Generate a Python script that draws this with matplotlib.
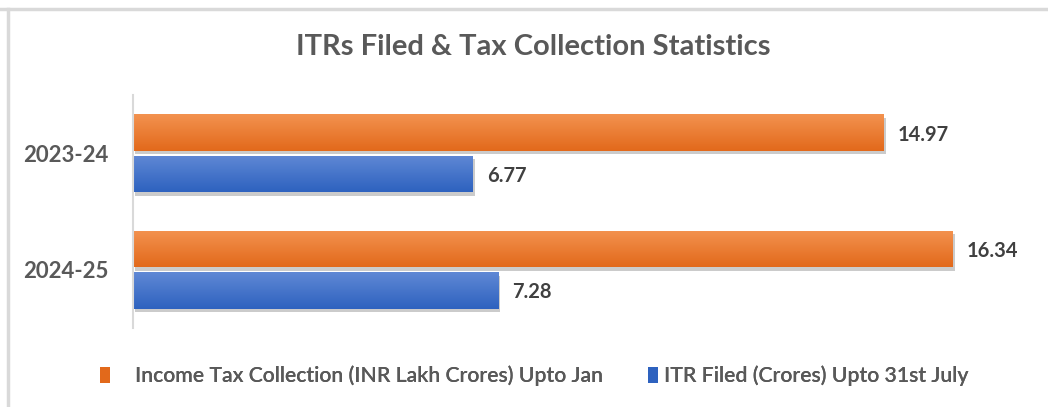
import matplotlib
matplotlib.use("Agg")
import matplotlib.pyplot as plt
import matplotlib.patheffects as pe
from matplotlib.patches import Patch
from matplotlib.lines import Line2D
import numpy as np

categories = ["2023-24", "2024-25"]
tax_collection = [14.97, 16.34]
itr_filed = [6.77, 7.28]
series_names = ["Income Tax Collection (INR Lakh Crores) Upto Jan",
                "ITR Filed (Crores) Upto 31st July"]
title = "ITRs Filed & Tax Collection Statistics"

FONT = ["Lato", "DejaVu Sans"]
plt.rcParams["font.family"] = FONT

orange_top, orange_bot = "#F3924F", "#E2691B"
blue_top, blue_bot = "#5F88D5", "#2E62BF"
text_col = "#595959"
label_col = "#404040"

fig = plt.figure(figsize=(10.48, 4.07), dpi=100)
fig.patch.set_facecolor("white")

# light frame lines (top and left)
fig.add_artist(Line2D([0, 1], [1 - 8.5/407]*2, transform=fig.transFigure, color="#D9D9D9", lw=2.5))
fig.add_artist(Line2D([7.5/1048]*2, [0, 1 - 8.5/407], transform=fig.transFigure, color="#D9D9D9", lw=2.5))

ax = fig.add_axes([133/1048, 79/407, 903/1048, 233/407])
y = np.arange(len(categories))
h = 0.31
off = 0.178

def grad_bars(bars, top, bot):
    cmap = matplotlib.colors.LinearSegmentedColormap.from_list("g", [top, bot])
    grad = np.linspace(0, 1, 64).reshape(-1, 1)
    for b in bars:
        b.set_path_effects([pe.SimplePatchShadow(offset=(1.5, -2.5), shadow_rgbFace="#7f7f7f", alpha=0.4), pe.Normal()])
        x0, y0 = b.get_x(), b.get_y()
        w, hh = b.get_width(), b.get_height()
        im = ax.imshow(grad, cmap=cmap, aspect="auto", extent=[x0, x0 + w, y0 + hh, y0],
                       origin="upper", zorder=b.get_zorder() + 0.1, interpolation="bilinear")
        im.set_clip_path(b)

b1 = ax.barh(y - off, tax_collection, height=h, color=orange_bot, zorder=2)
b2 = ax.barh(y + off, itr_filed, height=h, color=blue_bot, zorder=2)
ax.set_ylim(1.5, -0.5)
ax.set_xlim(0, 18)
grad_bars(b1, orange_top, orange_bot)
grad_bars(b2, blue_top, blue_bot)

for bars, vals in ((b1, tax_collection), (b2, itr_filed)):
    for b, v in zip(bars, vals):
        ax.annotate(f"{v:.2f}", (v, b.get_y() + b.get_height()/2), xytext=(14, -2),
                    textcoords="offset pixels", va="center", ha="left",
                    fontsize=14.5, fontweight="bold", color=label_col)

ax.set_yticks(y)
ax.set_yticklabels(categories, fontsize=16, fontweight="bold", color=text_col)
ax.tick_params(axis="y", length=0, pad=18)
ax.set_xticks([])
for s in ["top", "right", "bottom"]:
    ax.spines[s].set_visible(False)
ax.spines["left"].set_color("#D9D9D9")
ax.spines["left"].set_linewidth(1.5)

fig.text(533/1048, 1 - 47/407, title, ha="center", va="center", fontsize=21,
         fontweight="bold", color=text_col)

handles = [Patch(facecolor=orange_bot, edgecolor="none"), Patch(facecolor=blue_bot, edgecolor="none")]
leg_x = [100/1048, 648/1048]
pads = [1.2, 0.3]
for hd, name, lx, pd in zip(handles, series_names, leg_x, pads):
    lg = fig.legend([hd], [name], loc="center left", bbox_to_anchor=(lx, 1 - 376/407),
                    frameon=False, fontsize=15.3, handlelength=0.45, handleheight=0.8,
                    handletextpad=pd, borderaxespad=0, borderpad=0, labelcolor=text_col,
                    prop={"size": 15.3, "weight": "semibold"})
    fig.add_artist(lg)

fig.savefig("out.png", dpi=100, facecolor="white")
